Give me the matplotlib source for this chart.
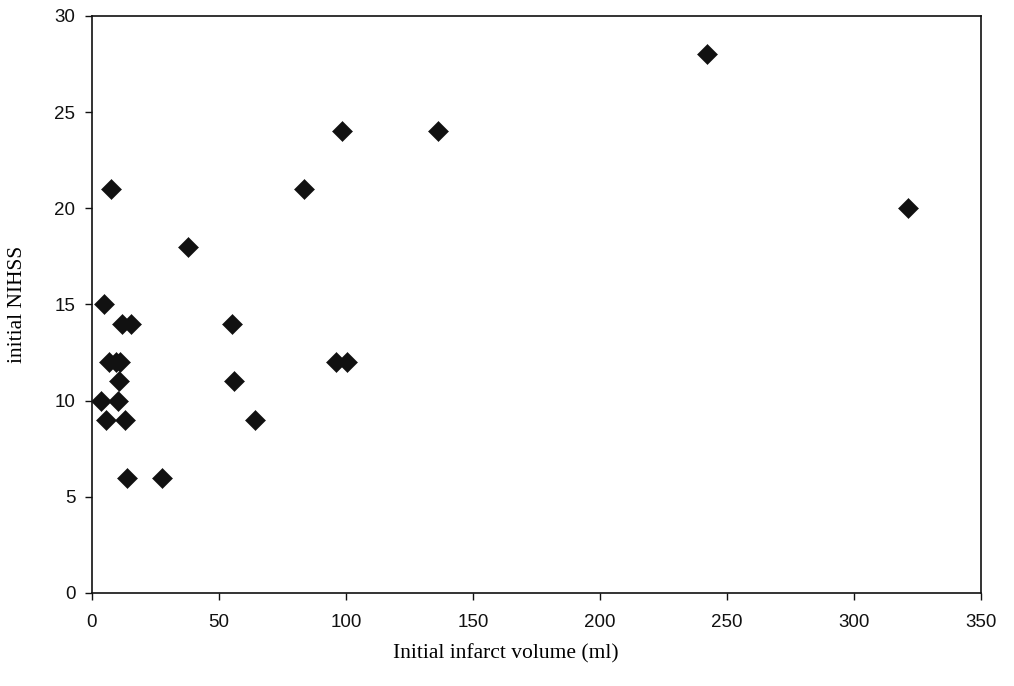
import matplotlib
matplotlib.use('Agg')
import matplotlib.pyplot as plt

# Initial infarct volume (ml) vs initial NIHSS
volume = [4.8, 11.7, 15.4, 6.8, 9.4, 11.0, 10.7, 3.5, 10.1, 5.5, 13.1, 13.8, 27.6,
          7.4, 37.8, 55.2, 56.0, 64.0, 95.9, 100.5, 83.6, 98.3, 136.1, 242.0, 321.1]
nihss = [15, 14, 14, 12, 12, 12, 11, 10, 10, 9, 9, 6, 6,
         21, 18, 14, 11, 9, 12, 12, 21, 24, 24, 28, 20]

fig = plt.figure(figsize=(10.14, 6.86), dpi=100)
ax = fig.add_axes([0.0907, 0.1356, 0.8768, 0.8411])

ax.plot(volume, nihss, linestyle='none', marker='D', markersize=9.8,
        color='#111111', markeredgewidth=0.4)

ax.set_xlim(0, 350)
ax.set_ylim(0, 30)
ax.set_xticks(range(0, 351, 50))
ax.set_yticks(range(0, 31, 5))

for s in ax.spines.values():
    s.set_linewidth(1.2)
    s.set_color('#111111')

ax.tick_params(direction='out', length=5, width=1, colors='#111111')
ax.tick_params(axis='x', pad=10)
ax.tick_params(axis='y', pad=7)
for lab in ax.get_xticklabels() + ax.get_yticklabels():
    lab.set_family('Liberation Sans')
    lab.set_fontsize(13.5)

ax.set_xlabel('Initial infarct volume (ml)', family='Liberation Serif', fontsize=15.5)
ax.xaxis.set_label_coords(0.465, -0.088)
ax.set_ylabel('initial NIHSS', family='Liberation Serif', fontsize=15.5, labelpad=20)

fig.savefig('out.png', dpi=100)
